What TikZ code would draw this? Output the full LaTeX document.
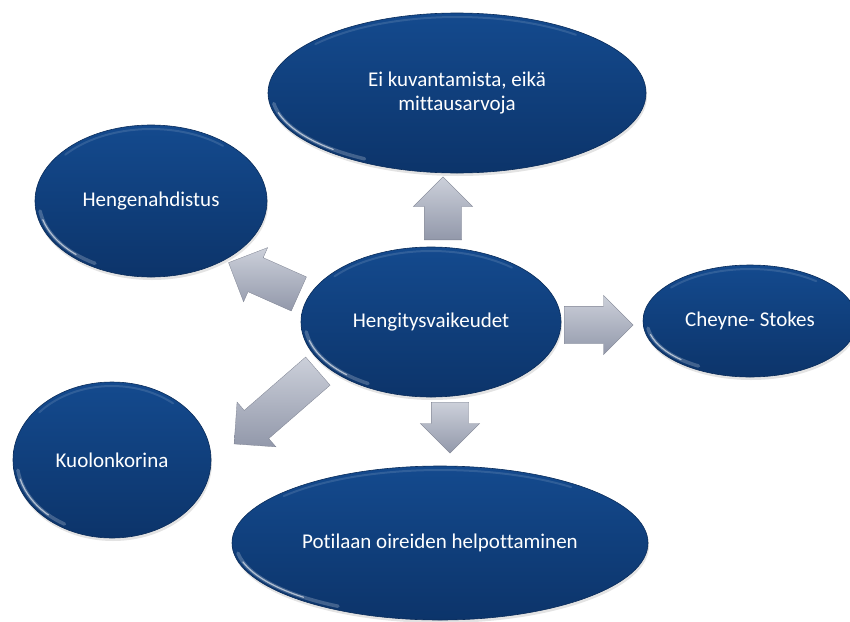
\documentclass[tikz,border=0pt]{standalone}
\usepackage{fontspec}
\setmainfont{Carlito}[Ligatures=NoCommon]
\usetikzlibrary{shapes.geometric,shapes.arrows,shadows,calc}
\definecolor{elltop}{RGB}{20,74,142}
\definecolor{ellbot}{RGB}{12,52,106}
\definecolor{arrtop}{RGB}{204,208,218}
\definecolor{arrbot}{RGB}{146,152,170}
\tikzset{
 bub/.style={ellipse, inner sep=0pt, top color=elltop, bottom color=ellbot,
   draw=ellbot!85!black, line width=0.6pt, text=white,
   font=\fontsize{21}{24}\selectfont, align=center,
   drop shadow={opacity=0.22, shadow xshift=1pt, shadow yshift=-3pt}},
 blk/.style={single arrow, inner xsep=0pt, inner ysep=18.5pt, anchor=tail,
   single arrow head extend=11pt, single arrow tip angle=90,
   top color=arrtop, bottom color=arrbot, draw=arrbot!85!black, line width=0.3pt},
}
\newcommand\glossy[3]{%
 \pgfmathsetmacro\gx{#2-4}\pgfmathsetmacro\gy{#3-4}%
 \draw[white, opacity=.22, line width=3.5pt, line cap=round]
   ($(#1.center)+(188:\gx pt and \gy pt)$) arc[start angle=188, end angle=240, x radius=\gx pt, y radius=\gy pt];
 \draw[white, opacity=.6, line width=1.2pt, line cap=round]
   ($(#1.center)+(195:\gx pt and \gy pt)$) arc[start angle=195, end angle=228, x radius=\gx pt, y radius=\gy pt];
 \draw[white, opacity=.12, line width=2pt, line cap=round]
   ($(#1.center)+(50:\gx pt and \gy pt)$) arc[start angle=50, end angle=140, x radius=\gx pt, y radius=\gy pt];
}
\begin{document}
\begin{tikzpicture}[x=1pt,y=1pt]
\useasboundingbox (0,0) rectangle (850,-621);
\clip (0,0) rectangle (850,-621);
% arrows (placed by their tails)
\node[blk, minimum height=63pt, rotate=90] (a1) at (443,-240) {};
\node[blk, minimum height=69pt] (a2) at (564,-325) {};
\node[blk, minimum height=51pt, rotate=-90] (a3) at (450,-402) {};
\node[blk, minimum height=77pt, rotate=156] (a4) at (299,-294) {};
\node[blk, minimum height=111pt, rotate=221] (a5) at (318,-371) {};
% ellipses
\node[bub, minimum width=378pt, minimum height=160pt] (top) at (457,-93) {Ei kuvantamista, eikä\\mittausarvoja};
\node[bub, minimum width=232pt, minimum height=152pt] (hen) at (151,-201) {Hengenahdistus};
\node[bub, minimum width=260pt, minimum height=150pt] (mid) at (431,-322) {Hengitysvaikeudet};
\node[bub, minimum width=214pt, minimum height=112pt] (che) at (750,-321) {Cheyne- Stokes};
\node[bub, minimum width=198pt, minimum height=156pt] (kuo) at (112,-460) {Kuolonkorina};
\node[bub, minimum width=416pt, minimum height=154pt] (pot) at (440,-543) {Potilaan oireiden helpottaminen};
\glossy{top}{189}{80}
\glossy{hen}{116}{76}
\glossy{mid}{130}{75}
\glossy{che}{107}{56}
\glossy{kuo}{99}{78}
\glossy{pot}{208}{77}
\end{tikzpicture}
\end{document}
